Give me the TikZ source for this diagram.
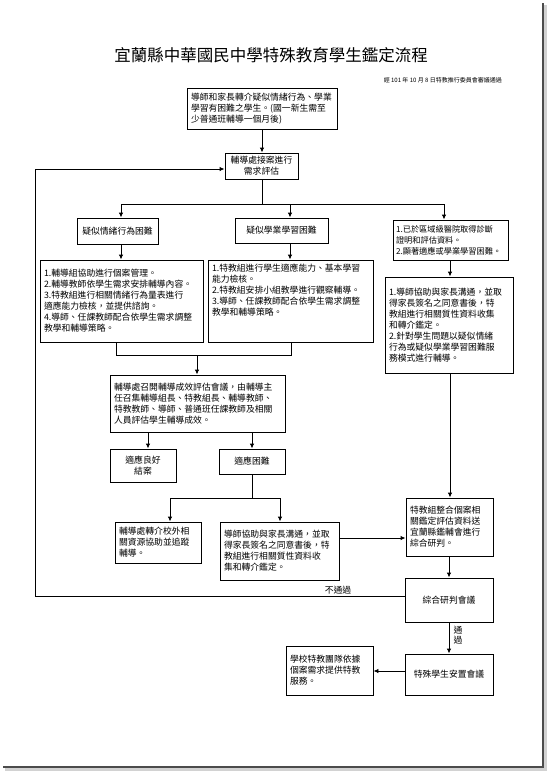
\documentclass[tikz,border=0pt]{standalone}
\usepackage{fontspec}
\setmainfont{Noto Sans CJK TC}
\usetikzlibrary{arrows.meta}
\tikzset{
  bx/.style={draw, line width=0.9pt, inner xsep=4pt, inner ysep=2pt, font=\fontsize{8.8}{11}\selectfont},
  lbx/.style={bx, align=left},
  cbx/.style={bx, align=center},
  arr/.style={line width=0.9pt, -{Latex[length=5pt,width=4.5pt]}},
  ln/.style={line width=0.9pt},
  lbl/.style={font=\fontsize{8.8}{10}\selectfont, inner sep=0.5pt, align=center},
}
\begin{document}
\begin{tikzpicture}[x=1pt,y=-1pt]
\useasboundingbox (0,0) rectangle (547,772);
\fill[white] (0,0) rectangle (547,772);
% page shadow
\draw[line width=3pt, gray!35] (545,5) -- (545,769) -- (5,769);
\draw[line width=1.8pt, black!70] (543,3) -- (543,767) -- (3,767);

% title
\node[font=\fontsize{16.5}{18}\selectfont, inner sep=0pt] (title) at (271,55) {宜蘭縣中華國民中學特殊教育學生鑑定流程};
\node[font=\fontsize{6}{7}\selectfont, inner sep=0pt, anchor=east] (sub) at (502,80) {經 101 年 10 月 8 日特教推行委員會審議通過};

% boxes
\node[lbx, text width=142pt, minimum height=41pt] (A) at (262,108.5) {導師和家長轉介疑似情緒行為、學業\\學習有困難之學生。(國一新生需至\\少普通班輔導一個月後)};
\node[cbx, minimum width=73pt, minimum height=26pt] (B) at (261.5,166) {輔導處接案進行\\需求評估};
\node[cbx, minimum width=81pt, minimum height=26pt] (C1) at (117.5,231) {疑似情緒行為困難};
\node[cbx, minimum width=93pt, minimum height=25pt] (C2) at (281.5,230.5) {疑似學業學習困難};
\node[lbx, inner xsep=3pt, text width=109pt, minimum height=40pt, font=\fontsize{8.2}{11}\selectfont] (C3) at (450.5,240) {1.已於區域級醫院取得診斷\\證明和評估資料。\\2.顯著適應或學業學習困難。};
\node[lbx, text width=155pt, minimum height=82pt] (D1) at (121.5,301) {1.輔導組協助進行個案管理。\\2.輔導教師依學生需求安排輔導內容。\\3.特教組進行相關情緒行為量表進行\\適應能力檢核，並提供諮詢。\\4.導師、任課教師配合依學生需求調整\\教學和輔導策略。};
\node[bx, inner ysep=4pt, minimum width=165pt, minimum height=82pt] (D2) at (290.5,301) {\parbox[c][74pt][t]{157pt}{\raggedright 1.特教組進行學生適應能力、基本學習\\能力檢核。\\2.特教組安排小組教學進行觀察輔導。\\3.導師、任課教師配合依學生需求調整\\教學和輔導策略。}};
\node[lbx, text width=120pt, minimum height=96pt] (D3) at (449,325) {1.導師協助與家長溝通，並取\\得家長簽名之同意書後，特\\教組進行相關質性資料收集\\和轉介鑑定。\\2.針對學生問題以疑似情緒\\行為或疑似學業學習困難服\\務模式進行輔導。};
\node[lbx, text width=167pt, minimum height=57pt] (E) at (197.5,403.5) {輔導處召開輔導成效評估會議，由輔導主\\任召集輔導組長、特教組長、輔導教師、\\特教教師、導師、普通班任課教師及相關\\人員評估學生輔導成效。};
\node[cbx, minimum width=66pt, minimum height=33pt] (F1) at (143,465.5) {適應良好\\結案};
\node[cbx, minimum width=66pt, minimum height=25pt] (F2) at (252,461.5) {適應困難};
\node[lbx, text width=78pt, minimum height=41pt] (G1) at (158,542.5) {輔導處轉介校外相\\關資源協助並追蹤\\輔導。};
\node[lbx, text width=111pt, minimum height=58pt] (G2) at (279.5,551) {導師協助與家長溝通，並取\\得家長簽名之同意書後，特\\教組進行相關質性資料收\\集和轉介鑑定。};
\node[lbx, text width=79pt, minimum height=58pt] (E3) at (449.5,527) {特教組整合個案相\\關鑑定評估資料送\\宜蘭縣鑑輔會進行\\綜合研判。};
\node[cbx, minimum width=88pt, minimum height=44pt] (H) at (449,600) {綜合研判會議};
\node[cbx, minimum width=88pt, minimum height=41pt] (I) at (449,674.5) {特殊學生安置會議};
\node[lbx, text width=79pt, minimum height=49pt] (J) at (329.5,670.5) {學校特教團隊依據\\個案需求提供特教\\服務。};

% junction coordinates
\coordinate (jB) at (262,204);
\coordinate (jL) at (121,204);
\coordinate (jM) at (290,204);
\coordinate (jR) at (444,204);
\coordinate (kL) at (116,355);
\coordinate (kR) at (291,355);
\coordinate (kM) at (197,355);
\coordinate (eL) at (148,432);
\coordinate (eR) at (252,432);
\coordinate (fL) at (170,498);
\coordinate (fR) at (280,498);
\coordinate (fM) at (252,498);
\coordinate (lb) at (35,596);
\coordinate (lt) at (35,169);

% connectors
\draw[arr] (A.south -| 262,0) -- (B.north -| 262,0);
\draw[ln] (B.south -| jB) -- (jB);
\draw[ln] (jL) -- (jR);
\draw[arr] (jL) -- (jL |- C1.north);
\draw[arr] (jM) -- (jM |- C2.north);
\draw[arr] (jR) -- (jR |- C3.north);
\draw[arr] (C1.south -| jL) -- (jL |- D1.north);
\draw[arr] (C2.south -| jM) -- (jM |- D2.north);
\draw[arr] (C3.south -| 450,0) -- (D3.north -| 450,0);
\draw[ln] (D1.south -| kL) -- (kL) -- (kR) -- (D2.south -| kR);
\draw[arr] (kM) -- (E.north -| kM);
\draw[arr] (E.south -| eL) -- (F1.north -| eL);
\draw[arr] (E.south -| eR) -- (F2.north -| eR);
\draw[ln] (F2.south -| fM) -- (fM);
\draw[ln] (fL) -- (fR);
\draw[arr] (fL) -- (G1.north -| fL);
\draw[arr] (fR) -- (G2.north -| fR);
\draw[arr] (G2.east |- 0,538) -- (E3.west |- 0,538);
\draw[arr] (D3.south -| 450,0) -- (E3.north -| 450,0);
\draw[arr] (E3.south -| 449,0) -- (H.north -| 449,0);
\draw[arr] (H.west |- lb) -- (lb) -- (lt) -- (B.west |- lt);
\node[lbl, anchor=south] (npass) at (338,595) {不通過};
\draw[arr] (H.south) -- (I.north);
\node[lbl, font=\fontsize{8.8}{10.5}\selectfont] (pass) at (458,635) {通\\過};
\draw[arr] (I.west |- 0,671) -- (J.east |- 0,671);
\end{tikzpicture}
\end{document}
